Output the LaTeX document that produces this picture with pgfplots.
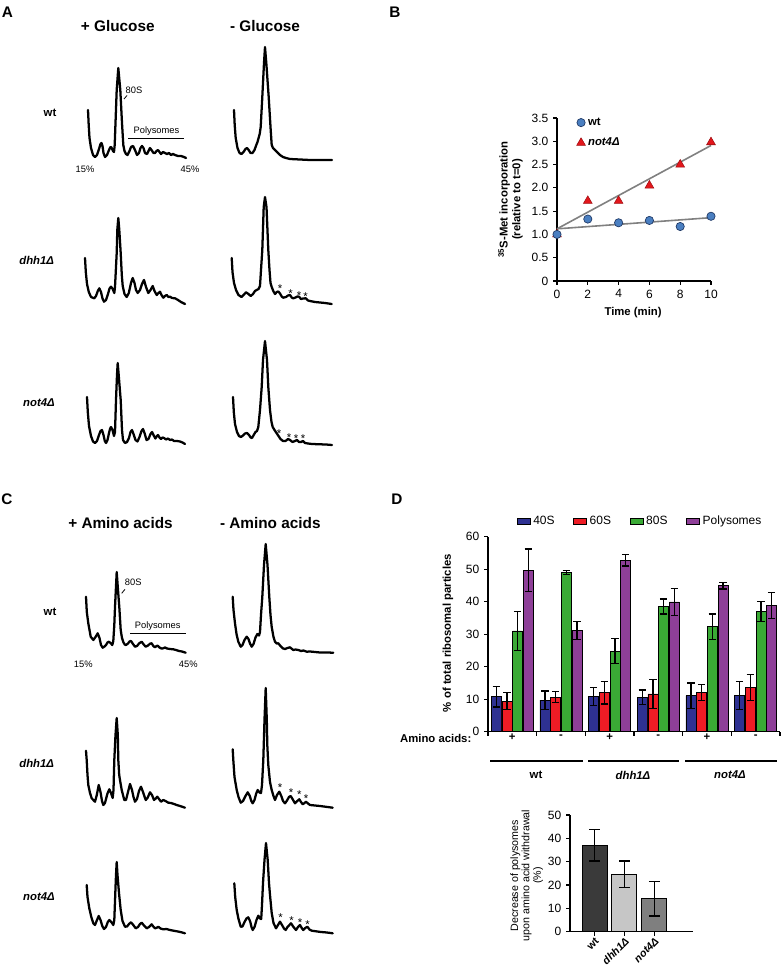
\documentclass[border=0pt]{standalone}
\usepackage{fontspec}
\setmainfont{Liberation Sans}
\usepackage{pgfplots}
\pgfplotsset{compat=1.18}
\definecolor{bl40}{HTML}{2E3192}
\definecolor{rd60}{HTML}{EE1C25}
\definecolor{gr80}{HTML}{3AAA35}
\definecolor{pu}{HTML}{8E3F98}
\definecolor{wtblue}{HTML}{4A7FC1}
\definecolor{wtedge}{HTML}{1F3864}
\definecolor{trired}{HTML}{E3161B}
\definecolor{ga}{HTML}{3A3A3A}
\definecolor{gb}{HTML}{C6C6C6}
\definecolor{gc}{HTML}{7F7F7F}
\newcommand{\fPanel}{\fontsize{11.5}{13}\selectfont\bfseries}
\newcommand{\fStrain}{\fontsize{8.5}{10}\selectfont\bfseries}
\newcommand{\fSmall}{\fontsize{7}{8}\selectfont}
\newcommand{\fStar}{\fontsize{8.5}{9}\selectfont}
\newcommand{\fTick}{\fontsize{9}{10.5}\selectfont}
\newcommand{\fLab}{\fontsize{8.5}{9.5}\selectfont\bfseries}
\pgfplotsset{
  canvas/.style={scale only axis, hide axis, clip=false, y dir=reverse,
    xmin=80, xmax=340, width=195pt, height=315pt, anchor=south west},
  trace/.style={black, line width=1.7pt, line join=round, line cap=round, mark=none},
  chart/.style={scale only axis, anchor=south west, axis x line*=bottom, axis y line*=left,
    tick align=outside, major tick length=3pt, clip=false,
    axis line style={line width=0.9pt, black}, tick style={line width=0.9pt, black},
    tick label style={font=\fTick}, /pgf/number format/assume math mode=true},
  ebar/.style={error bars/.cd, y dir=both, y explicit,
    error bar style={line width=0.9pt, black},
    error mark options={rotate=90, mark size=#1, line width=0.9pt, black}},
  ebar/.default=2.8pt,
}
\begin{document}
\begin{tikzpicture}
\useasboundingbox (0,0) rectangle (585.75pt,732pt);

% ---------------- Panel A traces ----------------
\begin{axis}[canvas, ymin=40, ymax=460, at={(60pt,387pt)}]
\addplot[trace] coordinates {(88,110) (88.7,125) (89.5,138) (91,148) (93,155) (95,157) (97,155) (99,149) (100.5,144) (101.5,143) (102.5,146) (103.5,153) (105,157) (107,155) (109,150) (110.5,147) (111.5,147.5) (113,151) (114,152) (114.7,145) (115.5,123) (116.7,90) (118.3,68) (120.3,90) (122,123) (123.3,145) (124.5,151) (126,154) (127.5,155) (129.5,151) (131,147) (133,146) (135,150) (137,155) (139,153) (140.5,148) (142,146) (143.5,148) (145,153) (147,154) (149,150) (150,148) (151.5,150) (153.5,153) (155,153) (156.5,151) (158,150) (159.5,152) (161,154) (163,152) (165,153) (167,154) (169,153) (171,155) (173,154) (175,155) (178,156) (181,156) (184,157) (186,158)};
\addplot[trace] coordinates {(234,110) (234.7,125) (235.7,138) (237.5,148) (239.5,153) (241.5,154) (243.5,152) (245.5,149) (247,148) (248.7,150) (250.5,153) (252.5,153) (254.5,150) (256.3,145) (257.5,142) (258.3,139) (259.7,134) (260.7,127) (262.3,97) (264,63) (265,47) (266.3,63) (268.7,97) (270.7,130) (271.7,145) (273,148) (275,150) (277,152) (280,155) (283,157) (286,158) (290,159) (300,159.5) (310,160) (320,160) (332,160)};
\addplot[trace] coordinates {(85,258) (85.8,272) (87,284) (88.8,292) (91,297) (94.3,298.3) (96,296) (97.8,291) (99.3,288.3) (101,292) (102.5,298.5) (104,301.7) (106,300) (108,294) (109.5,288.5) (111,286.7) (112.7,289) (114.3,293) (115,287) (116.7,253) (117.3,230) (118.3,218) (119.3,230) (120.7,253) (121.8,275) (122.7,286) (124.5,294) (126.7,297) (128.8,293) (131,283) (132.7,278) (134.5,283) (136,290) (137.7,293) (140,290) (142,284) (144,280) (146,287) (148.3,293) (150.5,290) (152.7,286) (154.5,291) (156.7,295) (158.5,293) (160,291.7) (161.5,295) (163.3,297.7) (165,296) (166.7,295) (168.5,297) (170,296.7) (172,298) (175,298.3) (178,300) (181,302) (185,304)};
\addplot[trace] coordinates {(231.7,258) (232.5,272) (234,283) (236,290) (238.5,295) (241.5,297) (243.5,295) (246,292.3) (248.5,294) (250.7,296) (253,294) (255,291) (256.7,290) (258.5,289) (260,286) (261,270) (262.3,250) (263.7,207) (265,197) (266.5,207) (268.3,250) (269.5,270) (270.5,283) (271.7,287) (273.3,291) (275,294) (276.8,292) (278.3,291.5) (280,293.5) (281.7,296.5) (283.3,297.7) (286,297) (288,295.5) (290,295) (291.7,297.5) (293.3,298.3) (295.5,297.5) (297.5,296.5) (299,296.7) (301,299) (303,298.5) (305.7,298.3) (308,300.5) (310,301) (315,302) (320,302.5) (325,303) (331.7,304)};
\addplot[trace] coordinates {(87,397) (87.8,412) (89,426) (91,436) (93,441.5) (95,443) (97,441) (99,435) (100.5,431) (102,430) (103.5,435) (104.8,441) (106,443) (107.5,440) (109,433) (110,429) (111,427) (112.5,430) (114,436) (115,432) (116,400) (117,375) (117.7,363) (118.7,375) (120.7,400) (122,430) (123,440) (125,443) (127,442) (129,438) (130.5,432) (132,430) (133.5,434) (135.5,440) (137.5,441.5) (139.5,437) (141.5,431) (143,429) (144.5,433) (146.5,440) (148.5,439) (150.5,434) (152,432) (153.5,435) (155.3,438.5) (157,436) (158,435) (159.5,437.5) (161,439) (162.5,437.5) (164,438) (166,439.5) (168,438.5) (170,440) (172,439.5) (174,441) (177,441) (180,441.5) (182.5,442.5) (185,444)};
\addplot[trace] coordinates {(233,397) (233.8,412) (235,424) (237,432) (239,436) (241,437) (243,435.5) (245,433.5) (247,433) (249,435) (250.7,437.5) (252,438) (253.7,435) (255.5,432) (257,431) (258.3,427) (260,410) (261.7,387) (263,360) (265,341) (267,360) (268.3,387) (270,410) (271.5,422) (272.7,427) (274.5,430) (276.5,433) (278.5,436) (280.5,439) (283,441) (285.5,441) (288,439) (290,440) (292.5,442) (295,441) (297,440) (299,442) (301,442) (303,441) (305,443) (308,443.5) (312,444) (320,444.3) (326,444.5) (332,445)};
\end{axis}

% ---------------- Panel C traces ----------------
\begin{axis}[canvas, ymin=530, ymax=950, at={(60pt,19.5pt)}]
\addplot[trace] coordinates {(86,596.7) (86.8,612) (88.3,623.3) (90.7,636.7) (93.3,640) (95.5,637) (97.7,633.3) (99.5,638) (101,645) (102.7,647.7) (104.5,646.5) (106,645) (107.5,642.5) (109,641.7) (110.5,643) (112.3,645) (113.3,641) (114.3,625) (115,607) (116.7,572) (118,590) (119.3,607) (120.7,630) (122,638) (123.3,642) (124.7,644.5) (126,645) (128,643.5) (129.5,641.5) (131,641) (133,644) (135,646.7) (137,646) (139,643.5) (141.7,641.7) (143.7,644.5) (145.7,646.7) (148,645.5) (150,643.7) (151.7,643.3) (153.3,646) (155,647.3) (156.5,646) (157.7,645.7) (159.5,647.5) (161.5,648.5) (163.3,648.3) (165,647.5) (167,648.5) (170,649) (173.3,649.3) (176,650) (179,651) (182,651.5) (185.7,652.7)};
\addplot[trace] coordinates {(232.7,596.7) (233.5,610) (235,623.3) (236.5,634) (238.3,641.7) (240.7,646.7) (242.5,645) (244.5,640) (246.7,636.7) (248.5,639) (250,643.5) (251.7,646.7) (253.5,644) (255.5,637.5) (257.3,634) (259,635.5) (260,632) (261,615) (262.3,597) (264,565) (265.7,544) (267.5,565) (269.3,597) (270.5,615) (271.7,627) (273.5,637) (275,641.7) (276.7,643.5) (278.3,643.3) (280.5,646) (282.7,648.3) (285,649) (287.5,648) (290,647.3) (292,649) (293.3,650) (295.5,649.5) (298.3,650) (301,651) (303.5,650.5) (306.7,651.7) (310,651.5) (315,652) (320,652.5) (326,652.5) (333.3,652.7)};
\addplot[trace] coordinates {(86,750.7) (86.7,760) (87.5,775) (88.3,785) (90,793) (91.7,798.3) (95,801.7) (96.8,795) (98.7,785) (100.5,792) (102,801) (103.3,805) (105,803) (107.3,794) (109.3,789.3) (111,793) (112.7,798) (113.5,790) (114.3,760) (115.5,735) (116.7,718) (117.8,735) (118.3,760) (119.2,775) (120,780) (121.7,790) (124.3,800) (126,800) (128,792) (130,784) (132,790) (133.5,797) (135,801.7) (137,799) (139,791) (141,786.7) (143,792) (145.7,800) (147.5,798) (150,792.3) (152,795) (154,800) (155.7,798.5) (157.3,796.7) (159,799) (161,801.7) (163.3,800) (165.5,801) (168.3,802.7) (171,803) (173.5,803.8) (176.7,805) (180,806) (185,807.7)};
\addplot[trace] coordinates {(232.7,749.3) (233.3,760) (234.5,777) (236.7,790) (238.5,797) (240.7,802.7) (243,801) (245.5,796) (247.7,792.3) (249.8,796) (251.3,801) (252.7,803.3) (254.5,800) (256.2,793.5) (257.7,790) (259.5,792.5) (261,793) (262,785) (263.3,760) (264.5,720) (265.7,688) (266.8,720) (267.3,745) (268.3,765) (270,782) (271.7,790) (273.5,796) (275,800) (277,795) (279.3,791.7) (281.3,796) (283,801) (285,803.3) (287,800.5) (289,797) (290.7,796) (292.5,799) (295,803.3) (297.3,801) (299.3,799.3) (301,802) (302.7,804.3) (304.5,803) (306,801.7) (308,803.5) (310,805) (315,805.5) (320,806) (326,806.8) (332.7,807.7)};
\addplot[trace] coordinates {(86.7,885) (87.5,897) (89.3,908.3) (91.3,917) (93.3,923.3) (95,925) (97,920) (98.7,916) (100.5,920) (102.3,926) (104,929) (106,927) (107.8,922) (109.3,920) (111.3,922) (113.3,925) (114.3,920) (115.3,893) (116,875) (116.7,862) (117.5,875) (119,893) (120.7,910) (122.5,921) (125,926.7) (127,926.5) (129,924) (131,922.3) (133.3,925) (135.7,928.3) (138,927) (140,924) (141.7,922.7) (144,925.5) (146.7,928.3) (149,927) (151.7,924.3) (153.3,926.5) (155,928.3) (156.7,927.8) (158.3,926.7) (160.5,928.5) (163.3,929.3) (166.5,929) (170,930) (174,930.8) (178,931.5) (181.5,932.3) (185,933.3)};
\addplot[trace] coordinates {(234.3,883.3) (235.2,897) (236.7,910) (238.5,919) (240.7,926.7) (242.5,926.5) (244.5,922) (246.5,918.5) (248.3,917.3) (250.2,921.5) (251.5,927) (252.7,930) (254.5,927) (256.5,920) (258.3,915.7) (260,918.5) (261.2,919) (262,905) (263,883) (264.5,860) (266,843) (267.7,860) (269,883) (270,895) (271.7,913) (273.5,923) (276,928.3) (278,925) (280,921.7) (282,925) (284,928.5) (285.7,930) (287.5,927) (291,923.3) (293.5,927) (296,930) (298,927) (300,925) (301.7,928) (303.3,930) (305.3,928) (307.3,926.7) (309.5,929.5) (311.7,930.7) (316,931.3) (321,932) (327,932.5) (332.7,933.3)};
\end{axis}

% ---------------- Panel B ----------------
\begin{axis}[chart, at={(417.75pt,521.25pt)}, width=115.5pt, height=122.25pt,
  xmin=0, xmax=10, ymin=0, ymax=3.5,
  xtick={0,2,4,6,8,10}, ytick={0,0.5,1,1.5,2,2.5,3,3.5},
  yticklabels={0,0.5,1.0,1.5,2.0,2.5,3.0,3.5},
  xlabel={Time (min)}, xlabel style={font=\fLab, at={(axis description cs:0.494,-0.194)}, anchor=center},
  ylabel={\textsuperscript{35}S-Met incorporation\\(relative to t=0)},
  ylabel style={font=\fLab, align=center, at={(axis description cs:-0.302,0.5)}, anchor=center},
  legend style={at={(axis description cs:0.1,1.035)}, anchor=north west, draw=none, fill=none,
    font=\fLab, row sep=4pt},
  legend image code/.code={\draw[#1] plot coordinates {(0pt,0pt)};},
  legend cell align=left, reverse legend]
\addplot[color=gray, line width=1.2pt, forget plot] coordinates {(0,1.12) (10,1.36)};
\addplot[color=gray, line width=1.2pt, forget plot] coordinates {(0,1.12) (10,2.91)};
\addplot[only marks, mark=triangle*, mark size=3.8pt, mark options={fill=trired, draw=trired!70!black, line width=0.4pt}]
  coordinates {(0,1.0) (2,1.72) (4,1.72) (6,2.05) (8,2.5) (10,2.98)};
\addlegendentry{\textit{not4Δ}}
\addplot[only marks, mark=*, mark size=3.1pt, mark options={fill=wtblue, draw=wtedge, line width=0.5pt}]
  coordinates {(0,1.0) (2,1.33) (4,1.25) (6,1.3) (8,1.17) (10,1.39)};
\addlegendentry{wt}
\end{axis}

% ---------------- Panel D main ----------------
\begin{axis}[chart, at={(366pt,183.25pt)}, width=219pt, height=146.25pt,
  xmin=0, xmax=6, ymin=0, ymax=60,
  xtick={0,1,2,3,4,5,6}, xticklabels={}, ytick={0,10,20,30,40,50,60},
  ybar, bar width=7.5pt,
  ylabel={\% of total ribosomal particles},
  ylabel style={font=\fLab, at={(axis description cs:-0.137,0.506)}, anchor=center},
  legend columns=4,
  legend style={at={(axis description cs:0.522,1.078)}, anchor=center, draw=none, fill=none,
    font=\fTick, /tikz/every even column/.append style={column sep=12pt}},
  legend image code/.code={\draw[#1, draw=black, line width=0.6pt] (0pt,-2.3pt) rectangle (9.75pt,2.3pt);}]
\addplot[fill=bl40, draw=black, line width=0.5pt, bar shift=0pt, ebar] table[x=x, y=y, y error=e] {
x y e
0.171 10.8 3.2
1.171 9.7 2.8
2.171 10.8 2.8
3.171 10.6 2.2
4.171 11.1 3.9
5.171 11.1 4.3
};
\addlegendentry{40S}
\addplot[fill=rd60, draw=black, line width=0.5pt, bar shift=0pt, ebar] table[x=x, y=y, y error=e] {
x y e
0.39 9.4 2.6
1.39 10.6 1.7
2.39 12.0 3.5
3.39 11.6 4.5
4.39 12.0 2.4
5.39 13.6 4.0
};
\addlegendentry{60S}
\addplot[fill=gr80, draw=black, line width=0.5pt, bar shift=0pt, ebar] table[x=x, y=y, y error=e] {
x y e
0.61 31.0 6.0
1.61 48.9 0.6
2.61 24.8 3.8
3.61 38.5 2.3
4.61 32.3 3.9
5.61 36.9 3.1
};
\addlegendentry{80S}
\addplot[fill=pu, draw=black, line width=0.5pt, bar shift=0pt, ebar] table[x=x, y=y, y error=e] {
x y e
0.829 49.7 6.5
1.829 31.1 2.8
2.829 52.8 1.8
3.829 39.9 4.2
4.829 44.9 1.0
5.829 38.8 4.0
};
\addlegendentry{Polysomes}
\end{axis}

% ---------------- Panel D small ----------------
\begin{axis}[chart, at={(427.5pt,33.25pt)}, width=92.25pt, height=87.5pt,
  xmin=-0.82, xmax=3.3, ymin=0, ymax=50,
  xtick={0,1,2}, xticklabels={wt, \textit{dhh1Δ}, \textit{not4Δ}},
  x tick label style={font=\fontsize{8}{9}\selectfont\bfseries, rotate=45, anchor=north east, inner sep=0.5pt},
  ytick={0,10,20,30,40,50},
  ybar, bar width=18.75pt,
  ylabel={Decrease of polysomes\\upon amino acid withdrawal\\(\%)},
  ylabel style={font=\fontsize{8}{8.6}\selectfont, align=center, at={(axis description cs:-0.352,0.48)}, anchor=center}]
\addplot[fill=ga, draw=black, line width=0.6pt, bar shift=0pt, ebar=4pt]
  coordinates {(0,37.1) +- (0,6.8)};
\addplot[fill=gb, draw=black, line width=0.6pt, bar shift=0pt, ebar=4pt]
  coordinates {(1,24.6) +- (0,5.7)};
\addplot[fill=gc, draw=black, line width=0.6pt, bar shift=0pt, ebar=4pt]
  coordinates {(2,14.05) +- (0,7.35)};
\end{axis}

% ---------------- Text annotations (pixel frame) ----------------
\begin{scope}[shift={(0,732pt)}, x=0.75pt, y=-0.75pt]
\node[font=\fPanel] at (7.5,12) {A};
\node[font=\fPanel] at (395,12) {B};
\node[font=\fPanel] at (7,499.5) {C};
\node[font=\fPanel] at (397,499) {D};
\node[font=\fPanel] at (117.8,26) {+ Glucose};
\node[font=\fPanel] at (265,26) {- Glucose};
\node[font=\fPanel] at (120.5,522.7) {+ Amino acids};
\node[font=\fPanel] at (270.3,522.7) {- Amino acids};
% strain labels
\node[font=\fStrain] at (50,113) {wt};
\node[font=\fStrain] at (36.7,260) {\textit{dhh1Δ}};
\node[font=\fStrain] at (39,403) {\textit{not4Δ}};
\node[font=\fStrain] at (50,611.7) {wt};
\node[font=\fStrain] at (36.7,763.3) {\textit{dhh1Δ}};
\node[font=\fStrain] at (39,896.7) {\textit{not4Δ}};
% A annotations
\node[font=\fSmall] at (134,90) {80S};
\draw[line width=0.6pt] (124,99) -- (127,95.5);
\node[font=\fSmall] at (156.5,131) {Polysomes};
\draw[line width=1.1pt] (128,138.5) -- (184,138.5);
\node[font=\fSmall] at (85,169) {15\%};
\node[font=\fSmall] at (190,169) {45\%};
% C annotations
\node[font=\fSmall] at (133.3,582.3) {80S};
\draw[line width=0.6pt] (121.7,593.3) -- (125,589.3);
\node[font=\fSmall] at (157.7,625.7) {Polysomes};
\draw[line width=1.1pt] (130,633.3) -- (185.7,633.3);
\node[font=\fSmall] at (83.3,664) {15\%};
\node[font=\fSmall] at (188.3,664) {45\%};
% stars
\foreach \sx/\sy in {280/286, 290.7/291, 299/293.3, 305.7/294, 279/430.7, 289/435, 296/436, 303/436,
  280/785, 291/790, 299.3/792.3, 306/795.7, 280.7/915, 291.7/918.3, 300/920, 307.7/921.7}
  \node[font=\fStar, inner sep=0pt] at (\sx,\sy+2.5) {*};
% D x annotations
\node[font=\fLab, anchor=east] at (476,738) {Amino acids:};
\foreach \gx in {512.3, 609.7, 707} \node[font=\fLab] at (\gx,737) {+};
\foreach \gx in {561, 658.3, 755.7} \node[font=\fLab] at (\gx,737) {-};
\draw[line width=1.5pt] (490,761) -- (582.7,761);
\draw[line width=1.5pt] (588,761) -- (679,761);
\draw[line width=1.5pt] (685,761) -- (776.7,761);
\node[font=\fLab] at (536,775) {wt};
\node[font=\fLab] at (633,775) {\textit{dhh1Δ}};
\node[font=\fLab] at (730,775) {\textit{not4Δ}};
\end{scope}
\end{tikzpicture}
\end{document}
